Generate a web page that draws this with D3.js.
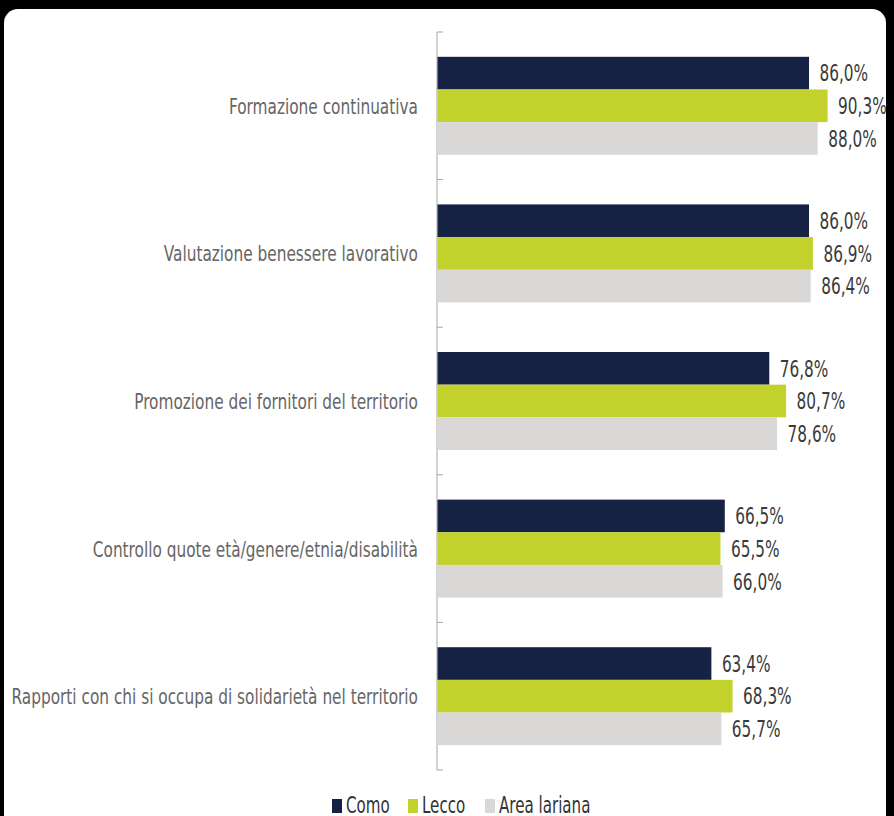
<!DOCTYPE html>
<html>
<head>
<meta charset="utf-8">
<script src="https://cdn.jsdelivr.net/npm/d3@7"></script>
<style>
  html, body { margin: 0; padding: 0; background: #000; }
  svg { display: block; }
  text { font-family: "Liberation Sans Narrow", "DejaVu Sans Condensed", sans-serif; }
  .cat { fill: #666; }
  .val { fill: #3a3a3a; }
  .leg { fill: #333; }
</style>
</head>
<body>
<div id="chart"></div>
<script>
var categories = [
  'Formazione continuativa',
  'Valutazione benessere lavorativo',
  'Promozione dei fornitori del territorio',
  'Controllo quote età/genere/etnia/disabilità',
  'Rapporti con chi si occupa di solidarietà nel territorio'
];
var series = ['Como', 'Lecco', 'Area lariana'];
var como = [86.0, 86.0, 76.8, 66.5, 63.4];
var lecco = [90.3, 86.9, 80.7, 65.5, 68.3];
var areaLariana = [88.0, 86.4, 78.6, 66.0, 65.7];
var colors = { 'Como': '#162244', 'Lecco': '#c3d12c', 'Area lariana': '#d9d8d6' };

var W = 894, H = 816;
// the source font is a condensed face, squeeze the fallback horizontally
var squeeze = { cat: 0.775, val: 0.74, leg: 0.73 };

var svg = d3.select('#chart').append('svg')
  .attr('width', W)
  .attr('height', H);

// frame of the screenshot
svg.append('rect').attr('width', W).attr('height', H).attr('fill', '#000');
svg.append('rect')
  .attr('x', 4).attr('y', 9)
  .attr('width', 882).attr('height', H + 20)
  .attr('rx', 14)
  .attr('fill', '#fff');

var rows = categories.map(function(c, i) {
  return { cat: c, values: [como[i], lecco[i], areaLariana[i]] };
});

var x = d3.scaleLinear().domain([0, 100]).range([437, 869]);
var y = d3.scaleBand().domain(categories).range([32, 770]).padding(0);
var y1 = d3.scaleBand().domain(series).range([0, y.bandwidth()])
  .paddingInner(0).paddingOuter(0.76);

// axis line + ticks at band edges
var axis = svg.append('g').attr('class', 'axis');
axis.append('line')
  .attr('x1', x(0)).attr('x2', x(0))
  .attr('y1', y.range()[0]).attr('y2', y.range()[1])
  .attr('stroke', '#a6a6a6').attr('stroke-width', 1);
var edges = categories.map(function(c) { return y(c); }).concat([y.range()[1]]);
axis.selectAll('line.tick').data(edges).enter().append('line')
  .attr('class', 'tick')
  .attr('x1', x(0)).attr('x2', x(0) + 6)
  .attr('y1', function(d) { return d; })
  .attr('y2', function(d) { return d; })
  .attr('stroke', '#a6a6a6').attr('stroke-width', 1);

function place(px, py, s) {
  return 'translate(' + px + ',' + py + ') scale(' + s + ',1)';
}

// groups
var groups = svg.selectAll('g.group').data(rows).enter().append('g')
  .attr('class', 'group')
  .attr('transform', function(d) { return 'translate(0,' + y(d.cat) + ')'; });

groups.append('text')
  .attr('class', 'cat')
  .attr('transform', place(418, y.bandwidth() / 2, squeeze.cat))
  .attr('dy', '0.36em')
  .attr('text-anchor', 'end')
  .style('font-size', '22px')
  .text(function(d) { return d.cat; });

var bars = groups.selectAll('g.bar')
  .data(function(d) {
    return d.values.map(function(v, i) { return { s: series[i], v: v }; });
  })
  .enter().append('g').attr('class', 'bar');

bars.append('rect')
  .attr('x', x(0) + 0.5)
  .attr('y', function(d) { return y1(d.s); })
  .attr('width', function(d) { return x(d.v) - x(0); })
  .attr('height', y1.bandwidth())
  .attr('fill', function(d) { return colors[d.s]; });

var fmt = d3.formatLocale({ decimal: ',', thousands: '.', grouping: [3], currency: ['', '€'] }).format('.1f');
bars.append('text')
  .attr('class', 'val')
  .attr('transform', function(d) {
    return place(x(d.v) + 11, y1(d.s) + y1.bandwidth() / 2, squeeze.val);
  })
  .attr('dy', '0.36em')
  .style('font-size', '23px')
  .text(function(d) { return fmt(d.v) + '%'; });

// legend
var legX = [332, 408, 485];
var leg = svg.selectAll('g.leg').data(series).enter().append('g')
  .attr('transform', function(d, i) { return 'translate(' + legX[i] + ',799)'; });
leg.append('rect')
  .attr('width', 10).attr('height', 14)
  .attr('fill', function(d) { return colors[d]; });
leg.append('text')
  .attr('class', 'leg')
  .attr('transform', place(14, 14, squeeze.leg))
  .style('font-size', '23px')
  .text(function(d) { return d; });
</script>
</body>
</html>
